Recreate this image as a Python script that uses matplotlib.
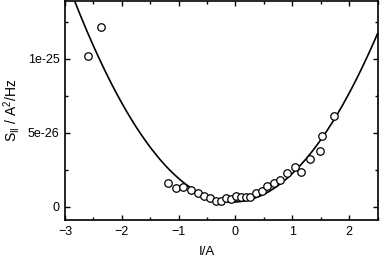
import matplotlib
matplotlib.use("Agg")
import matplotlib.pyplot as plt
import numpy as np
from matplotlib.ticker import MultipleLocator, FixedFormatter, FixedLocator

plt.rcParams['font.family'] = ['Liberation Sans', 'DejaVu Sans']
plt.rcParams['mathtext.default'] = 'regular'

# measured current (A)
current = [-2.59, -2.36, -1.19, -1.04, -0.92, -0.79, -0.66, -0.56, -0.45, -0.35,
           -0.26, -0.16, -0.07, 0.005, 0.09, 0.19, 0.26, 0.37, 0.47, 0.56,
           0.68, 0.78, 0.91, 1.05, 1.16, 1.32, 1.49, 1.53, 1.73]
# noise spectral density (units of 1e-26 A^2/Hz)
noise = [10.18, 12.16, 1.58, 1.28, 1.35, 1.13, 0.95, 0.74, 0.61, 0.41,
         0.39, 0.61, 0.50, 0.74, 0.63, 0.68, 0.68, 0.90, 1.08, 1.42,
         1.58, 1.80, 2.26, 2.66, 2.34, 3.20, 3.78, 4.78, 6.11]
scale = 1e-26

# quadratic fit coefficients (units of 1e-26)
fit_a, fit_b, fit_c = 1.754, 0.165, 0.319

ytick_vals = [0, 5e-26, 1e-25]
ytick_labels = ['0', '5e-26', '1e-25']
xtick_vals = [-3, -2, -1, 0, 1, 2]

fig = plt.figure(figsize=(3.8, 2.59), dpi=100)
ax = fig.add_axes([0.171, 0.1506, 0.8225, 0.8455])

xf = np.linspace(-3, 2.5, 300)
yf = (fit_a * xf**2 + fit_b * xf + fit_c) * scale
ax.plot(xf, yf, color='black', lw=1.2, zorder=2)

ax.plot(current, np.array(noise) * scale, linestyle='none', marker='o', ms=5.4,
        mfc='white', mec='black', mew=0.9, zorder=3)

ax.set_xlim(-3, 2.5)
ax.set_ylim(-0.9e-26, 13.9e-26)

ax.xaxis.set_major_locator(FixedLocator(xtick_vals))
ax.xaxis.set_minor_locator(MultipleLocator(0.5))
ax.yaxis.set_major_locator(FixedLocator(ytick_vals))
ax.yaxis.set_major_formatter(FixedFormatter(ytick_labels))
ax.yaxis.set_minor_locator(MultipleLocator(2.5e-26))

ax.tick_params(which='both', direction='in', top=True, right=True,
               labelsize=9, width=1.0, pad=4)
ax.tick_params(which='major', length=3.5)
ax.tick_params(which='minor', length=2.5)
for s in ax.spines.values():
    s.set_linewidth(1.2)

ax.set_xlabel('I/A', fontsize=9.5)
ax.xaxis.set_label_coords(0.455, -0.12)
ax.set_ylabel('S$_{II}$ / A$^{2}$/Hz', fontsize=10)
ax.yaxis.set_label_coords(-0.138, 0.5)

fig.savefig('out.png', dpi=100)
